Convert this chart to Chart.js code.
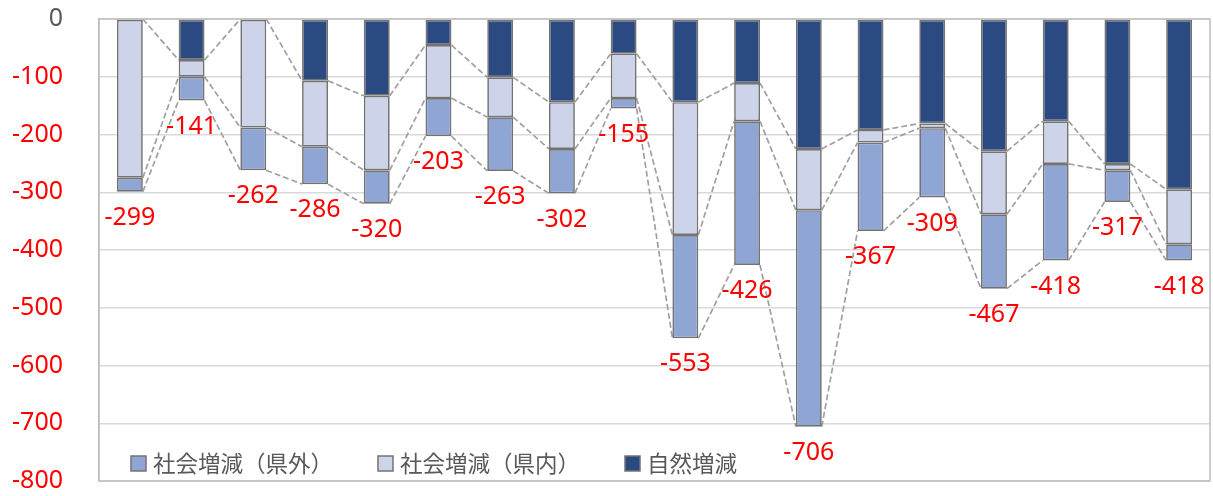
<!DOCTYPE html>
<html>
<head>
<meta charset="utf-8">
<script src="https://cdn.jsdelivr.net/npm/chart.js@4"></script>
<style>
  html, body { margin: 0; padding: 0; background: #fff; }
  #wrap { width: 1213px; height: 496px; }
</style>
</head>
<body>
<div id="wrap"><canvas id="popChart"></canvas></div>
<script>
let categories = ['1', '2', '3', '4', '5', '6', '7', '8', '9', '10', '11', '12', '13', '14', '15', '16', '17', '18'];
let seriesNames = ['自然増減', '社会増減（県内）', '社会増減（県外）'];
let naturalChange = [0, -71, 0, -107, -133, -45, -101, -144, -60, -144, -111, -225, -192, -181, -229, -177, -251, -295];
let socialInside = [-275, -29, -188, -114, -129, -92, -69, -81, -77, -230, -66, -106, -22, -8, -109, -74, -11, -95];
let socialOutside = [-24, -41, -74, -65, -58, -66, -93, -77, -18, -179, -249, -375, -153, -120, -129, -167, -55, -28];
let yMin = -800;
let yMax = 0;
let yStep = 100;

let colors = ['#2C4A82', '#CDD3E8', '#8FA5D4'];
let edgeColor = '#737373';

// dashed lines joining the segment ends of neighbouring bars
const seriesLines = {
    id: 'seriesLines',
    beforeDatasetsDraw(chart) {
        const ctx = chart.ctx;
        ctx.save();
        ctx.setLineDash([6, 3]);
        ctx.strokeStyle = '#A0A0A0';
        ctx.lineWidth = 1.7;
        chart.data.datasets.forEach((ds, k) => {
            const bars = chart.getDatasetMeta(k).data;
            for (let j = 0; j < bars.length - 1; j++) {
                const a = bars[j], b = bars[j + 1];
                ctx.beginPath();
                ctx.moveTo(a.x + a.width / 2, a.y);
                ctx.lineTo(b.x - b.width / 2, b.y);
                ctx.stroke();
            }
        });
        ctx.restore();
    }
};

const totalLabels = {
    id: 'totalLabels',
    afterDatasetsDraw(chart) {
        const ctx = chart.ctx;
        ctx.save();
        ctx.font = "25px 'Noto Sans', sans-serif";
        ctx.fillStyle = '#FF0000';
        ctx.textAlign = 'center';
        ctx.textBaseline = 'middle';
        chart.data.labels.forEach((lab, j) => {
            let total = 0;
            let lowest = -Infinity;
            let x = 0;
            chart.data.datasets.forEach((ds, k) => {
                total += ds.data[j];
                const el = chart.getDatasetMeta(k).data[j];
                if (el.y > lowest) lowest = el.y;
                x = el.x;
            });
            ctx.fillText(String(total), x, lowest + 26);
        });
        ctx.restore();
    }
};

const frameAndLegend = {
    id: 'frameAndLegend',
    beforeDatasetsDraw(chart) {
        const a = chart.chartArea;
        const ctx = chart.ctx;
        ctx.save();
        ctx.strokeStyle = '#BFBFBF';
        ctx.lineWidth = 1.5;
        ctx.strokeRect(a.left, a.top, a.right - a.left, a.bottom - a.top);
        ctx.restore();
    },
    afterDraw(chart) {
        const a = chart.chartArea;
        const ctx = chart.ctx;
        ctx.save();
        ctx.font = "22.5px 'Noto Sans CJK JP', sans-serif";
        ctx.textBaseline = 'middle';
        ctx.textAlign = 'left';
        let x = a.left + 32;
        const cy = a.bottom - 17.5;
        [2, 1, 0].forEach(k => {
            const ds = chart.data.datasets[k];
            ctx.fillStyle = ds.backgroundColor;
            ctx.fillRect(x, cy - 7.5, 15, 15);
            ctx.strokeStyle = edgeColor;
            ctx.lineWidth = 1.5;
            ctx.strokeRect(x, cy - 7.5, 15, 15);
            ctx.fillStyle = '#595959';
            ctx.fillText(ds.label, x + 22, cy);
            x += 22 + ctx.measureText(ds.label).width + 45;
        });
        ctx.restore();
    }
};

function makeSet(name, values, color) {
    return {
        label: name,
        data: values,
        backgroundColor: color,
        borderColor: edgeColor,
        borderWidth: 1.7,
        borderSkipped: false,
        categoryPercentage: 1,
        barPercentage: 0.42
    };
}

let config = {
    type: 'bar',
    data: {
        labels: categories,
        datasets: [
            makeSet(seriesNames[0], naturalChange, colors[0]),
            makeSet(seriesNames[1], socialInside, colors[1]),
            makeSet(seriesNames[2], socialOutside, colors[2])
        ]
    },
    options: {
        responsive: true,
        maintainAspectRatio: false,
        animation: false,
        layout: { padding: { top: 19, bottom: 15, left: 0, right: 3 } },
        plugins: {
            legend: { display: false },
            tooltip: { enabled: false }
        },
        scales: {
            x: { stacked: true, display: false },
            y: {
                stacked: true,
                min: yMin,
                max: yMax,
                ticks: {
                    stepSize: yStep,
                    padding: 36,
                    font: { family: "'Noto Sans', sans-serif", size: 25 },
                    color: c => (c.tick && c.tick.value === 0 ? '#595959' : '#FF0000')
                },
                grid: { color: '#D9D9D9', lineWidth: 1.5, drawTicks: false },
                border: { display: true, color: '#BFBFBF', width: 1.5 },
                afterFit: s => {
                    s.width = 99;
                    // tick padding should only push labels sideways
                    s.paddingTop = 0;
                    s.paddingBottom = 0;
                }
            }
        }
    },
    plugins: [seriesLines, totalLabels, frameAndLegend]
};

new Chart(document.getElementById('popChart'), config);
</script>
</body>
</html>
